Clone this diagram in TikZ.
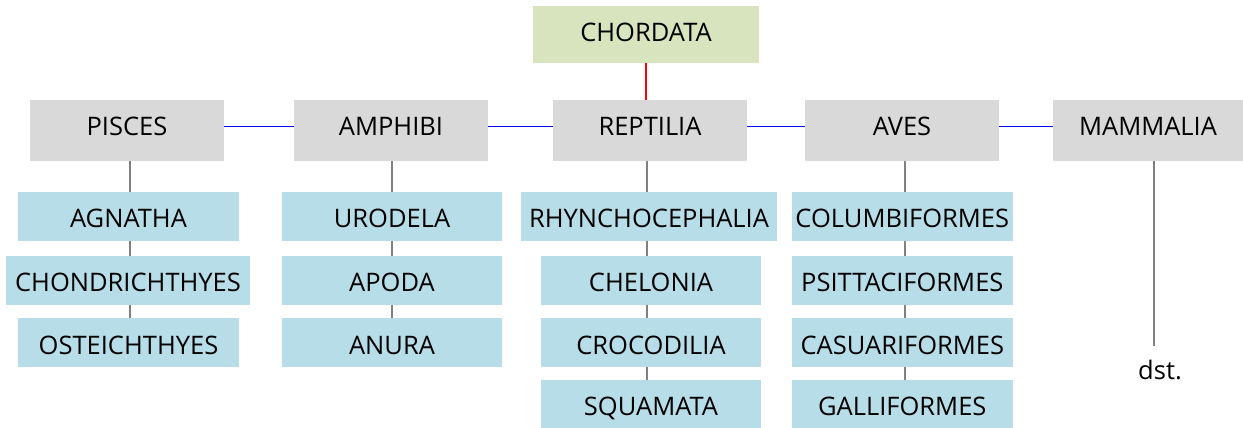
\documentclass[tikz,border=0pt]{standalone}
\usepackage{fontspec}
\setmainfont{Open Sans}
\definecolor{gboxc}{HTML}{D9D9D9}
\definecolor{bboxc}{HTML}{B7DEE8}
\definecolor{topc}{HTML}{D7E4BD}
\definecolor{linec}{HTML}{808080}
\begin{document}
\begin{tikzpicture}[x=1pt,y=-1pt,
  base/.style={inner sep=0pt,outer sep=0pt,font=\fontsize{25.5}{30}\selectfont,text=black},
  topbox/.style={base,fill=topc,minimum width=226pt,minimum height=57pt,text height=18pt,text depth=3pt},
  classbox/.style={base,fill=gboxc,minimum width=194pt,minimum height=61pt,text height=18pt,text depth=8pt},
  orderbox/.style={base,fill=bboxc,minimum height=48.5pt,text height=23pt,text depth=0pt},
  gline/.style={draw=linec,line width=1.5pt},
  bline/.style={draw=blue,line width=1.6pt},
  rline/.style={draw=red,line width=2pt}]
\useasboundingbox (0,0) rectangle (1243,428);
% column line positions
\coordinate (x1) at (130,0);
\coordinate (x2) at (392,0);
\coordinate (x3) at (647,0);
\coordinate (x4) at (905,0);
\coordinate (x5) at (1154,0);
\coordinate (mend) at (1154,346);
% class boxes
\node[topbox] (chordata) at (646,34.3) {CHORDATA};
\node[classbox] (pisces) at (127,130.4) {PISCES};
\node[classbox] (amphibi) at (391,130.4) {AMPHIBI};
\node[classbox] (reptilia) at (650,130.4) {REPTILIA};
\node[classbox] (aves) at (902,130.4) {AVES};
\node[classbox,minimum width=190pt] (mammalia) at (1148,130.4) {MAMMALIA};
% order boxes
\node[orderbox,minimum width=221pt] (agnatha) at (128.5,216.3) {AGNATHA};
\node[orderbox,minimum width=244pt] (chondr) at (128,280.3) {CHONDRICHTHYES};
\node[orderbox,minimum width=221pt] (osteich) at (128.5,342.5) {OSTEICHTHYES};
\node[orderbox,minimum width=220pt] (urodela) at (392,216.3) {URODELA};
\node[orderbox,minimum width=220pt] (apoda) at (392,280.3) {APODA};
\node[orderbox,minimum width=220pt] (anura) at (392,342.5) {ANURA};
\node[orderbox,minimum width=256pt] (rhyncho) at (649,216.3) {RHYNCHOCEPHALIA};
\node[orderbox,minimum width=220pt] (chelonia) at (651,280.3) {CHELONIA};
\node[orderbox,minimum width=220pt] (crocod) at (651,342.5) {CROCODILIA};
\node[orderbox,minimum width=220pt] (squamata) at (651,404) {SQUAMATA};
\node[orderbox,minimum width=221pt] (columbi) at (902.3,216.3) {COLUMBIFORMES};
\node[orderbox,minimum width=221pt] (psittaci) at (902.3,280.3) {PSITTACIFORMES};
\node[orderbox,minimum width=221pt] (casuari) at (902.3,342.5) {CASUARIFORMES};
\node[orderbox,minimum width=221pt] (galli) at (902.3,404) {GALLIFORMES};
\node[base,anchor=base] (dst) at (1160,379) {dst.};
% connectors
\draw[rline] (chordata.south) -- (reptilia.north -| chordata.south);
\draw[bline] ([yshift=4pt]pisces.east) -- ([yshift=4pt]amphibi.west);
\draw[bline] ([yshift=4pt]amphibi.east) -- ([yshift=4pt]reptilia.west);
\draw[bline] ([yshift=4pt]reptilia.east) -- ([yshift=4pt]aves.west);
\draw[bline] ([yshift=4pt]aves.east) -- ([yshift=4pt]mammalia.west);
\draw[gline] (pisces.south -| x1) -- (agnatha.north -| x1);
\draw[gline] (agnatha.south -| x1) -- (chondr.north -| x1);
\draw[gline] (chondr.south -| x1) -- (osteich.north -| x1);
\draw[gline] (amphibi.south -| x2) -- (urodela.north -| x2);
\draw[gline] (urodela.south -| x2) -- (apoda.north -| x2);
\draw[gline] (apoda.south -| x2) -- (anura.north -| x2);
\draw[gline] (reptilia.south -| x3) -- (rhyncho.north -| x3);
\draw[gline] (rhyncho.south -| x3) -- (chelonia.north -| x3);
\draw[gline] (chelonia.south -| x3) -- (crocod.north -| x3);
\draw[gline] (crocod.south -| x3) -- (squamata.north -| x3);
\draw[gline] (aves.south -| x4) -- (columbi.north -| x4);
\draw[gline] (columbi.south -| x4) -- (psittaci.north -| x4);
\draw[gline] (psittaci.south -| x4) -- (casuari.north -| x4);
\draw[gline] (casuari.south -| x4) -- (galli.north -| x4);
\draw[gline] (mammalia.south -| x5) -- (mend);
\end{tikzpicture}
\end{document}
